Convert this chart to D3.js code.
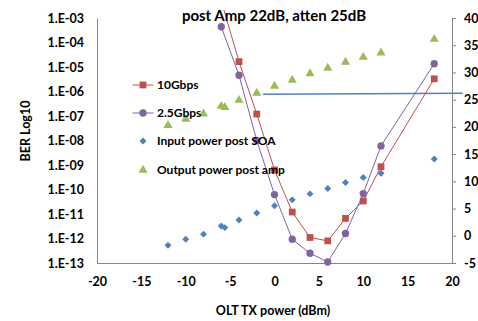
<!DOCTYPE html>
<html>
<head>
<meta charset="utf-8">
<script src="https://cdn.jsdelivr.net/npm/d3@7"></script>
<style>
  body { margin: 0; background: #fff; }
  svg text { font-family: Lato, "Liberation Sans", sans-serif; font-weight: bold; fill: #000; }
</style>
</head>
<body>
<div id="chart"></div>
<script>
// chart values
const xBer = [-6, -4, -2, 0, 2, 4, 6, 8, 10, 12, 18];
const ber10G = [5e-3, 1.66e-5, 1.2e-7, 6.3e-10, 1.2e-11, 1.1e-12, 8e-13, 6.6e-12, 3.4e-11, 8.5e-10, 3.3e-6];
const ber25G = [4.4e-4, 4.6e-6, 1e-8, 6.2e-11, 9.3e-13, 2.5e-13, 1.1e-13, 1.6e-12, 6.8e-11, 6e-9, 1.36e-5];

const xPower = [-12, -10, -8, -6, -5.6, -4, -2, 0, 2, 4, 6, 8, 10, 12, 18];
const inputPower = [-1.75, -0.65, 0.3, 1.8, 1.5, 2.9, 4.2, 5.5, 6.6, 7.7, 8.7, 9.8, 10.7, 11.5, 14.1];
const outputPower = [20.3, 21.45, 22.4, 23.8, 23.6, 24.9, 26.2, 27.5, 28.6, 29.8, 30.8, 31.9, 32.8, 33.6, 36.1];

// stray reference line drawn on the chart (right axis units)
const refLineX = [-1.3, 21.2];
const refLineY = [26.0, 26.2];

const xTicks = [-20, -15, -10, -5, 0, 5, 10, 15, 20];
const berTicks = [1e-13, 1e-12, 1e-11, 1e-10, 1e-9, 1e-8, 1e-7, 1e-6, 1e-5, 1e-4, 1e-3];
const rightTicks = [-5, 0, 5, 10, 15, 20, 25, 30, 35, 40];

const titleText = "post Amp 22dB, atten 25dB";
const xTitle = "OLT TX power (dBm)";
const yTitle = "BER Log10";

const width = 478, height = 321;
const mLeft = 97, mRight = 452, mTop = 18, mBottom = 263;

const svg = d3.select("#chart").append("svg")
    .attr("width", width)
    .attr("height", height);

const x = d3.scaleLinear().domain([-20, 20]).range([mLeft, mRight]);
const yBer = d3.scaleLog().domain([1e-13, 1e-3]).range([mBottom, mTop]);
const yPow = d3.scaleLinear().domain([-5, 40]).range([mBottom, mTop]);

const axisColor = "#868686";

// axes (plain hyphen for negatives, like the original)
const gLeft = svg.append("g")
    .attr("transform", "translate(" + mLeft + ",0)")
    .call(d3.axisLeft(yBer).tickValues(berTicks).tickSize(0).tickSizeOuter(0).tickPadding(13)
        .tickFormat(d => "1.E-" + String(Math.round(-Math.log10(d))).padStart(2, "0")));

const gRight = svg.append("g")
    .attr("transform", "translate(" + mRight + ",0)")
    .call(d3.axisRight(yPow).tickValues(rightTicks).tickSize(4).tickSizeOuter(0).tickPadding(8)
        .tickFormat(d => String(d)));

const gBottom = svg.append("g")
    .attr("transform", "translate(0," + mBottom + ")")
    .call(d3.axisBottom(x).tickValues(xTicks).tickSize(0).tickSizeOuter(0).tickPadding(14)
        .tickFormat(d => String(d)));

[gLeft, gRight, gBottom].forEach(g => {
    g.select(".domain").attr("stroke", axisColor);
    g.selectAll(".tick line").attr("stroke", axisColor);
    g.selectAll("text").attr("font-size", 12.5).attr("font-family", null);
});

// clip lines to plot area (a little headroom at the top like the original)
svg.append("clipPath").attr("id", "plotClip")
    .append("rect")
    .attr("x", mLeft).attr("y", mTop - 8)
    .attr("width", mRight - mLeft).attr("height", mBottom - mTop + 8);

const series = [
    { name: "10Gbps", xs: xBer, ys: ber10G, scale: yBer, color: "#C0504D", line: true, shape: "square" },
    { name: "2.5Gbps", xs: xBer, ys: ber25G, scale: yBer, color: "#8064A2", line: true, shape: "circle" },
    { name: "Input power post SOA", xs: xPower, ys: inputPower, scale: yPow, color: "#4F81BD", line: false, shape: "diamond" },
    { name: "Output power post amp", xs: xPower, ys: outputPower, scale: yPow, color: "#9BBB59", line: false, shape: "triangle" }
];

function symbolPath(shape) {
    if (shape == "square") return d3.symbol(d3.symbolSquare, 46)();
    if (shape == "circle") return d3.symbol(d3.symbolCircle, 42)();
    if (shape == "triangle") return d3.symbol(d3.symbolTriangle, 36)();
    return d3.symbol(d3.symbolSquare, 24)();
}
function symbolRotate(shape) {
    return shape == "diamond" ? " rotate(45)" : "";
}

const plot = svg.append("g");

// reference line
plot.append("path")
    .datum(d3.zip(refLineX, refLineY))
    .attr("fill", "none")
    .attr("stroke", "#4F81BD")
    .attr("stroke-width", 1.5)
    .attr("d", d3.line().x(d => x(d[0])).y(d => yPow(d[1])));

// scatter markers first for power series, then BER lines on top
[series[2], series[3], series[0], series[1]].forEach(s => {
    const pts = d3.zip(s.xs, s.ys);
    if (s.line) {
        plot.append("path")
            .datum(pts)
            .attr("clip-path", "url(#plotClip)")
            .attr("fill", "none")
            .attr("stroke", s.color)
            .attr("stroke-width", 1)
            .attr("d", d3.line().x(d => x(d[0])).y(d => s.scale(d[1])));
    }
    const [lo, hi] = s.scale.domain();
    plot.append("g").selectAll("path")
        .data(pts.filter(d => d[1] >= lo && d[1] <= hi))
        .enter().append("path")
        .attr("d", symbolPath(s.shape))
        .attr("transform", d => "translate(" + x(d[0]) + "," + s.scale(d[1]) + ")" + symbolRotate(s.shape))
        .attr("fill", s.color);
});

// legend
const legend = svg.append("g").attr("transform", "translate(143,0)");
const legendY = [85, 113, 141, 170];
series.forEach((s, i) => {
    const g = legend.append("g").attr("transform", "translate(0," + legendY[i] + ")");
    if (s.line) {
        g.append("line").attr("x1", -10.5).attr("x2", 10.5)
            .attr("stroke", s.color).attr("stroke-width", 1);
    }
    g.append("path")
        .attr("d", symbolPath(s.shape))
        .attr("transform", symbolRotate(s.shape))
        .attr("fill", s.color);
    g.append("text")
        .attr("x", 14)
        .attr("dy", "0.35em")
        .attr("font-size", 12)
        .text(s.name);
});

// titles
svg.append("text")
    .attr("x", 274).attr("y", 21)
    .attr("text-anchor", "middle")
    .attr("font-size", 15)
    .text(titleText);

svg.append("text")
    .attr("x", 273).attr("y", 315)
    .attr("text-anchor", "middle")
    .attr("font-size", 12.5)
    .text(xTitle);

svg.append("text")
    .attr("transform", "translate(30,131) rotate(-90)")
    .attr("text-anchor", "middle")
    .attr("font-size", 12.5)
    .text(yTitle);
</script>
</body>
</html>
